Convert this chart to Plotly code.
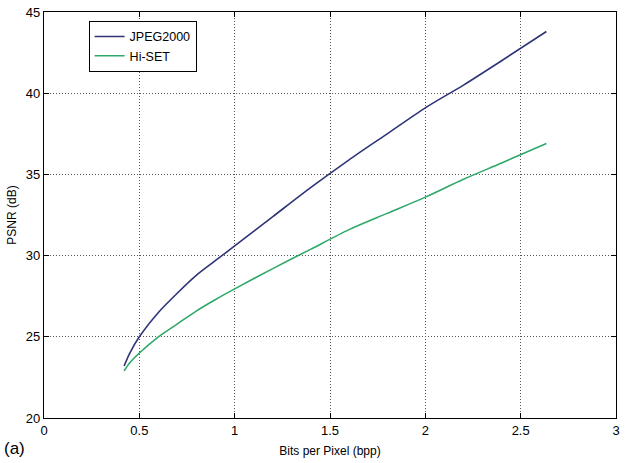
import plotly.graph_objects as go

bpp = [0.42, 0.45, 0.5, 0.6, 0.7, 0.8, 0.9, 1.0, 1.2, 1.4, 1.6, 1.8, 2.0, 2.2, 2.4, 2.635]
jpeg2000 = [23.2, 24.0, 25.0, 26.5, 27.7, 28.8, 29.7, 30.6, 32.4, 34.2, 35.9, 37.5, 39.1, 40.5, 42.0, 43.8]
hiset = [22.9, 23.4, 24.0, 25.0, 25.8, 26.6, 27.3, 27.95, 29.2, 30.4, 31.6, 32.6, 33.6, 34.7, 35.7, 36.9]

x_ticks = [0, 0.5, 1, 1.5, 2, 2.5, 3]
x_labels = ["0", "0.5", "1", "1.5", "2", "2.5", "3"]
y_ticks = [20, 25, 30, 35, 40, 45]

fig = go.Figure()
fig.add_trace(go.Scatter(x=bpp, y=jpeg2000, mode="lines", name="JPEG2000",
                         line=dict(color="#2e3577", width=1.6, shape="spline", smoothing=0.8)))
fig.add_trace(go.Scatter(x=bpp, y=hiset, mode="lines", name="Hi-SET",
                         line=dict(color="#2ea86a", width=1.6, shape="spline", smoothing=0.8)))

axis_common = dict(showline=True, linecolor="black", linewidth=1.2, mirror="ticks",
                   ticks="inside", ticklen=5, tickcolor="black",
                   showgrid=True, gridcolor="#555555", griddash="1px,2px", gridwidth=1,
                   zeroline=False, ticklabeloverflow="allow",
                   tickfont=dict(family="Arial", size=13, color="black"))

fig.update_layout(
    width=625, height=463,
    margin=dict(l=44, r=5, t=7, b=45),
    paper_bgcolor="white", plot_bgcolor="white",
    font=dict(family="Arial", color="black"),
    showlegend=True,
    legend=dict(x=0.078, y=0.978, xanchor="left", yanchor="top",
                bordercolor="black", borderwidth=1, bgcolor="white",
                font=dict(family="Arial", size=12.5, color="black"),
                tracegroupgap=0, itemwidth=30),
    xaxis=dict(range=[0, 3], tickvals=x_ticks, ticktext=x_labels,
               title=dict(text="Bits per Pixel (bpp)", font=dict(size=12), standoff=9),
               **axis_common),
    yaxis=dict(range=[20, 45], tickvals=y_ticks,
               title=dict(text="PSNR (dB)", font=dict(size=12), standoff=6),
               **axis_common),
)
fig.add_annotation(text="(a)", xref="paper", yref="paper", x=-0.074, y=-0.075,
                   xanchor="left", yanchor="middle", showarrow=False,
                   font=dict(family="Arial", size=17, color="black"))

fig.write_html("out.html")
